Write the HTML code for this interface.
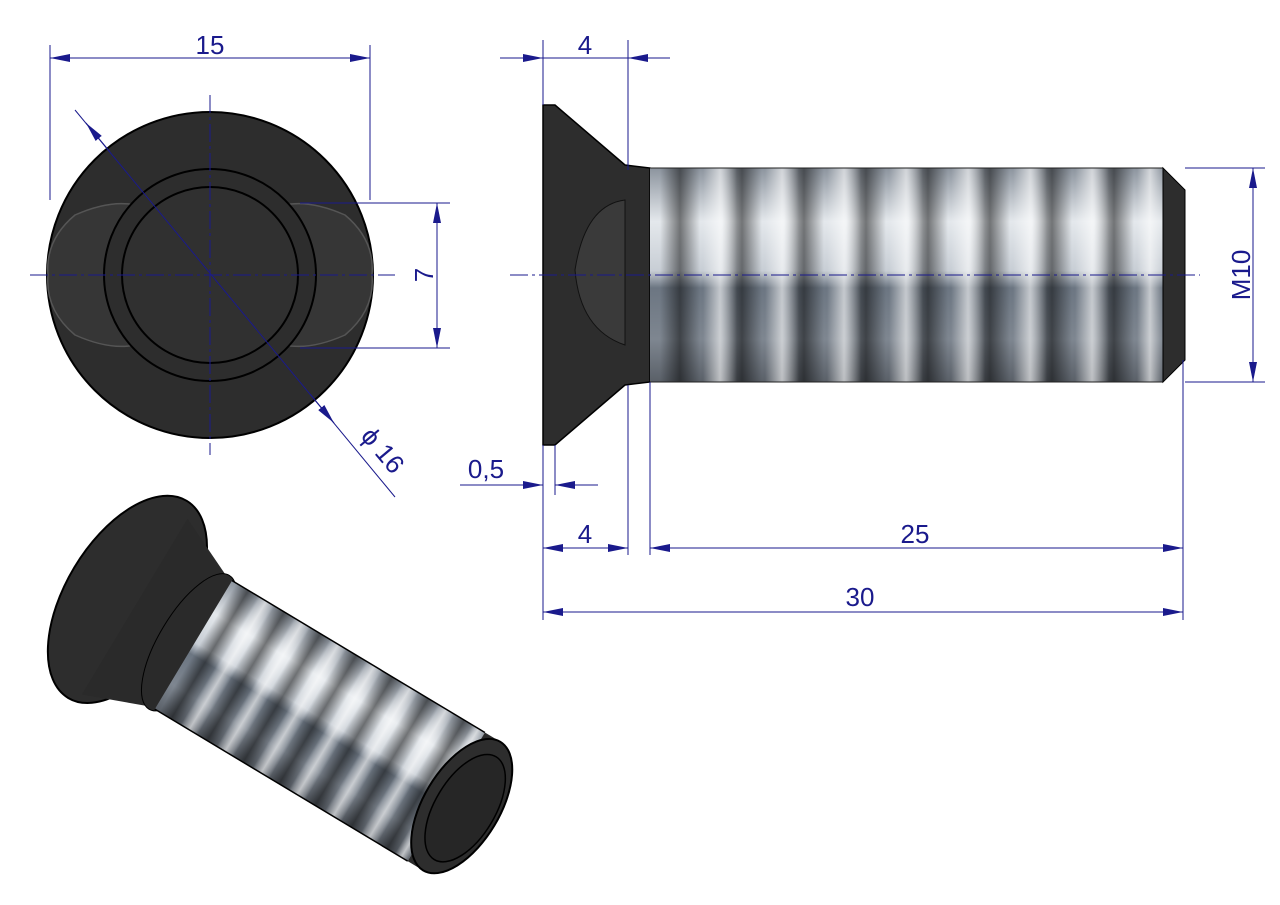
<!DOCTYPE html>
<html><head><meta charset="utf-8"><style>body{margin:0;background:#fff}svg{display:block}text{font-family:"Liberation Sans",sans-serif;fill:#1a1a8c;font-size:26px}</style></head><body>
<svg width="1280" height="905" viewBox="0 0 1280 905" xmlns="http://www.w3.org/2000/svg">
<defs>
<marker id="a" viewBox="0 0 20 8" refX="20" refY="4" markerWidth="20" markerHeight="8" orient="auto-start-reverse" markerUnits="userSpaceOnUse"><path d="M0,0 L20,4 L0,8z" fill="#1a1a8c"/></marker>
<linearGradient id="v" x1="0" y1="0" x2="0" y2="1"><stop offset="0" stop-color="#8c949e"/><stop offset=".25" stop-color="#e4e8ec"/><stop offset=".48" stop-color="#c8ced5"/><stop offset=".56" stop-color="#6c7682"/><stop offset=".8" stop-color="#7e8690"/><stop offset="1" stop-color="#5a6068"/></linearGradient>
<linearGradient id="b" x1="0" y1="0" x2="1" y2="0"><stop offset="0" stop-color="#000" stop-opacity="0"/><stop offset=".5" stop-color="#000" stop-opacity=".5"/><stop offset="1" stop-color="#000" stop-opacity="0"/></linearGradient>
<linearGradient id="w" x1="0" y1="0" x2="1" y2="0"><stop offset="0" stop-color="#fff" stop-opacity="0"/><stop offset=".5" stop-color="#fff" stop-opacity=".6"/><stop offset="1" stop-color="#fff" stop-opacity="0"/></linearGradient>
</defs>
<!-- top view -->
<circle cx="210" cy="275" r="163" fill="#2d2d2d" stroke="#000" stroke-width="2"/>
<path d="M75,215 Q120,195 150,210 L270,210 Q300,195 345,215 Q375,240 372,275 Q375,310 345,335 Q300,355 270,340 L150,340 Q120,355 75,335 Q45,310 48,275 Q45,240 75,215z" fill="#363636" stroke="#555" stroke-width="1.5"/>
<circle cx="210" cy="275" r="106" fill="#2d2d2d" stroke="#000" stroke-width="2"/>
<circle cx="210" cy="275" r="88" fill="#303030" stroke="#000" stroke-width="2"/>
<g stroke="#1a1a8c" stroke-width="1" fill="none">
<line x1="30" y1="275" x2="395" y2="275" stroke-dasharray="18,4,3,4"/>
<line x1="210" y1="95" x2="210" y2="455" stroke-dasharray="18,4,3,4"/>
<line x1="50" y1="45" x2="50" y2="200"/><line x1="370" y1="45" x2="370" y2="200"/>
<line x1="50" y1="58" x2="370" y2="58" marker-start="url(#a)" marker-end="url(#a)"/>
<line x1="300" y1="203" x2="450" y2="203"/><line x1="300" y1="348" x2="450" y2="348"/>
<line x1="437" y1="203" x2="437" y2="348" marker-start="url(#a)" marker-end="url(#a)"/>
<line x1="75" y1="110" x2="395" y2="497"/>
<line x1="110" y1="152" x2="86" y2="123" marker-end="url(#a)"/>
<line x1="310" y1="394" x2="334" y2="423" marker-end="url(#a)"/>
</g>
<text x="210" y="54" text-anchor="middle">15</text>
<text transform="translate(433,275) rotate(-90)" text-anchor="middle">7</text>
<text transform="translate(376,456) rotate(50)" text-anchor="middle">ϕ 16</text>
<!-- side view -->
<path d="M543,105 L555,105 L625,165 L650,168 L650,382 L625,385 L555,445 L543,445z" fill="#2d2d2d" stroke="#000" stroke-width="1.5"/>
<rect x="650" y="168" width="513" height="214" fill="url(#v)"/>
<g>
<rect x="660" y="168" width="40" height="214" fill="url(#b)"/>
<rect x="722" y="168" width="40" height="214" fill="url(#b)"/>
<rect x="784" y="168" width="40" height="214" fill="url(#b)"/>
<rect x="846" y="168" width="40" height="214" fill="url(#b)"/>
<rect x="908" y="168" width="40" height="214" fill="url(#b)"/>
<rect x="970" y="168" width="40" height="214" fill="url(#b)"/>
<rect x="1032" y="168" width="40" height="214" fill="url(#b)"/>
<rect x="1094" y="168" width="40" height="214" fill="url(#b)"/>
<rect x="703" y="168" width="34" height="214" fill="url(#w)"/>
<rect x="765" y="168" width="34" height="214" fill="url(#w)"/>
<rect x="827" y="168" width="34" height="214" fill="url(#w)"/>
<rect x="889" y="168" width="34" height="214" fill="url(#w)"/>
<rect x="951" y="168" width="34" height="214" fill="url(#w)"/>
<rect x="1013" y="168" width="34" height="214" fill="url(#w)"/>
<rect x="1075" y="168" width="34" height="214" fill="url(#w)"/>
<rect x="1137" y="168" width="26" height="214" fill="url(#w)"/>
</g>
<line x1="650" y1="168" x2="1163" y2="168" stroke="#222"/><line x1="650" y1="382" x2="1163" y2="382" stroke="#222"/>
<path d="M1163,168 L1185,190 L1185,360 L1163,382z" fill="#2d2d2d" stroke="#000"/>
<path d="M625,200 Q585,205 575,270 Q580,330 625,345z" fill="#3a3a3a" stroke="#111"/>
<g stroke="#1a1a8c" stroke-width="1" fill="none">
<line x1="510" y1="275" x2="1200" y2="275" stroke-dasharray="18,4,3,4"/>
<line x1="543" y1="40" x2="543" y2="105"/><line x1="628" y1="40" x2="628" y2="170"/>
<line x1="500" y1="58" x2="543" y2="58" marker-end="url(#a)"/><line x1="543" y1="58" x2="628" y2="58"/><line x1="670" y1="58" x2="628" y2="58" marker-end="url(#a)"/>
<line x1="1185" y1="168" x2="1265" y2="168"/><line x1="1185" y1="382" x2="1265" y2="382"/>
<line x1="1253" y1="168" x2="1253" y2="382" marker-start="url(#a)" marker-end="url(#a)"/>
<line x1="543" y1="445" x2="543" y2="620"/><line x1="555" y1="445" x2="555" y2="495"/>
<line x1="628" y1="385" x2="628" y2="555"/><line x1="650" y1="382" x2="650" y2="555"/><line x1="1183" y1="360" x2="1183" y2="620"/>
<line x1="460" y1="485" x2="543" y2="485" marker-end="url(#a)"/><line x1="598" y1="485" x2="555" y2="485" marker-end="url(#a)"/>
<line x1="543" y1="548" x2="628" y2="548" marker-start="url(#a)" marker-end="url(#a)"/>
<line x1="650" y1="548" x2="1183" y2="548" marker-start="url(#a)" marker-end="url(#a)"/>
<line x1="543" y1="612" x2="1183" y2="612" marker-start="url(#a)" marker-end="url(#a)"/>
</g>
<text x="585" y="54" text-anchor="middle">4</text>
<text transform="translate(1250,275) rotate(-90)" text-anchor="middle">M10</text>
<text x="486" y="478" text-anchor="middle">0,5</text>
<text x="585" y="543" text-anchor="middle">4</text>
<text x="915" y="543" text-anchor="middle">25</text>
<text x="860" y="606" text-anchor="middle">30</text>
<!-- iso view -->
<g transform="translate(172,632) rotate(31)">
<ellipse cx="-55" cy="-5" rx="62" ry="115" fill="#2d2d2d" stroke="#000" stroke-width="2"/>
<path d="M-45,-105 L20,-75 L20,75 L-45,100z" fill="#2a2a2a"/>
<ellipse cx="20" cy="0" rx="30" ry="78" fill="#2a2a2a" stroke="#000" stroke-width="1"/>
<rect x="25" y="-75" width="295" height="150" fill="url(#v)"/>
<rect x="30" y="-75" width="28" height="150" fill="url(#b)"/>
<rect x="72" y="-75" width="28" height="150" fill="url(#b)"/>
<rect x="114" y="-75" width="28" height="150" fill="url(#b)"/>
<rect x="156" y="-75" width="28" height="150" fill="url(#b)"/>
<rect x="198" y="-75" width="28" height="150" fill="url(#b)"/>
<rect x="240" y="-75" width="28" height="150" fill="url(#b)"/>
<rect x="282" y="-75" width="28" height="150" fill="url(#b)"/>
<rect x="55" y="-75" width="20" height="150" fill="url(#w)"/>
<rect x="97" y="-75" width="20" height="150" fill="url(#w)"/>
<rect x="139" y="-75" width="20" height="150" fill="url(#w)"/>
<rect x="181" y="-75" width="20" height="150" fill="url(#w)"/>
<rect x="223" y="-75" width="20" height="150" fill="url(#w)"/>
<rect x="265" y="-75" width="20" height="150" fill="url(#w)"/>
<rect x="305" y="-75" width="15" height="150" fill="url(#w)"/>
<line x1="25" y1="-75" x2="320" y2="-75" stroke="#000" stroke-width="1.5"/>
<line x1="25" y1="75" x2="320" y2="75" stroke="#000" stroke-width="1.5"/>
<rect x="320" y="-75" width="18" height="150" fill="#2a2a2a"/>
<ellipse cx="338" cy="0" rx="38" ry="75" fill="#2d2d2d" stroke="#000" stroke-width="2"/>
<ellipse cx="342" cy="0" rx="30" ry="60" fill="#262626" stroke="#000" stroke-width="1.5"/>
</g>
</svg>
</body></html>
